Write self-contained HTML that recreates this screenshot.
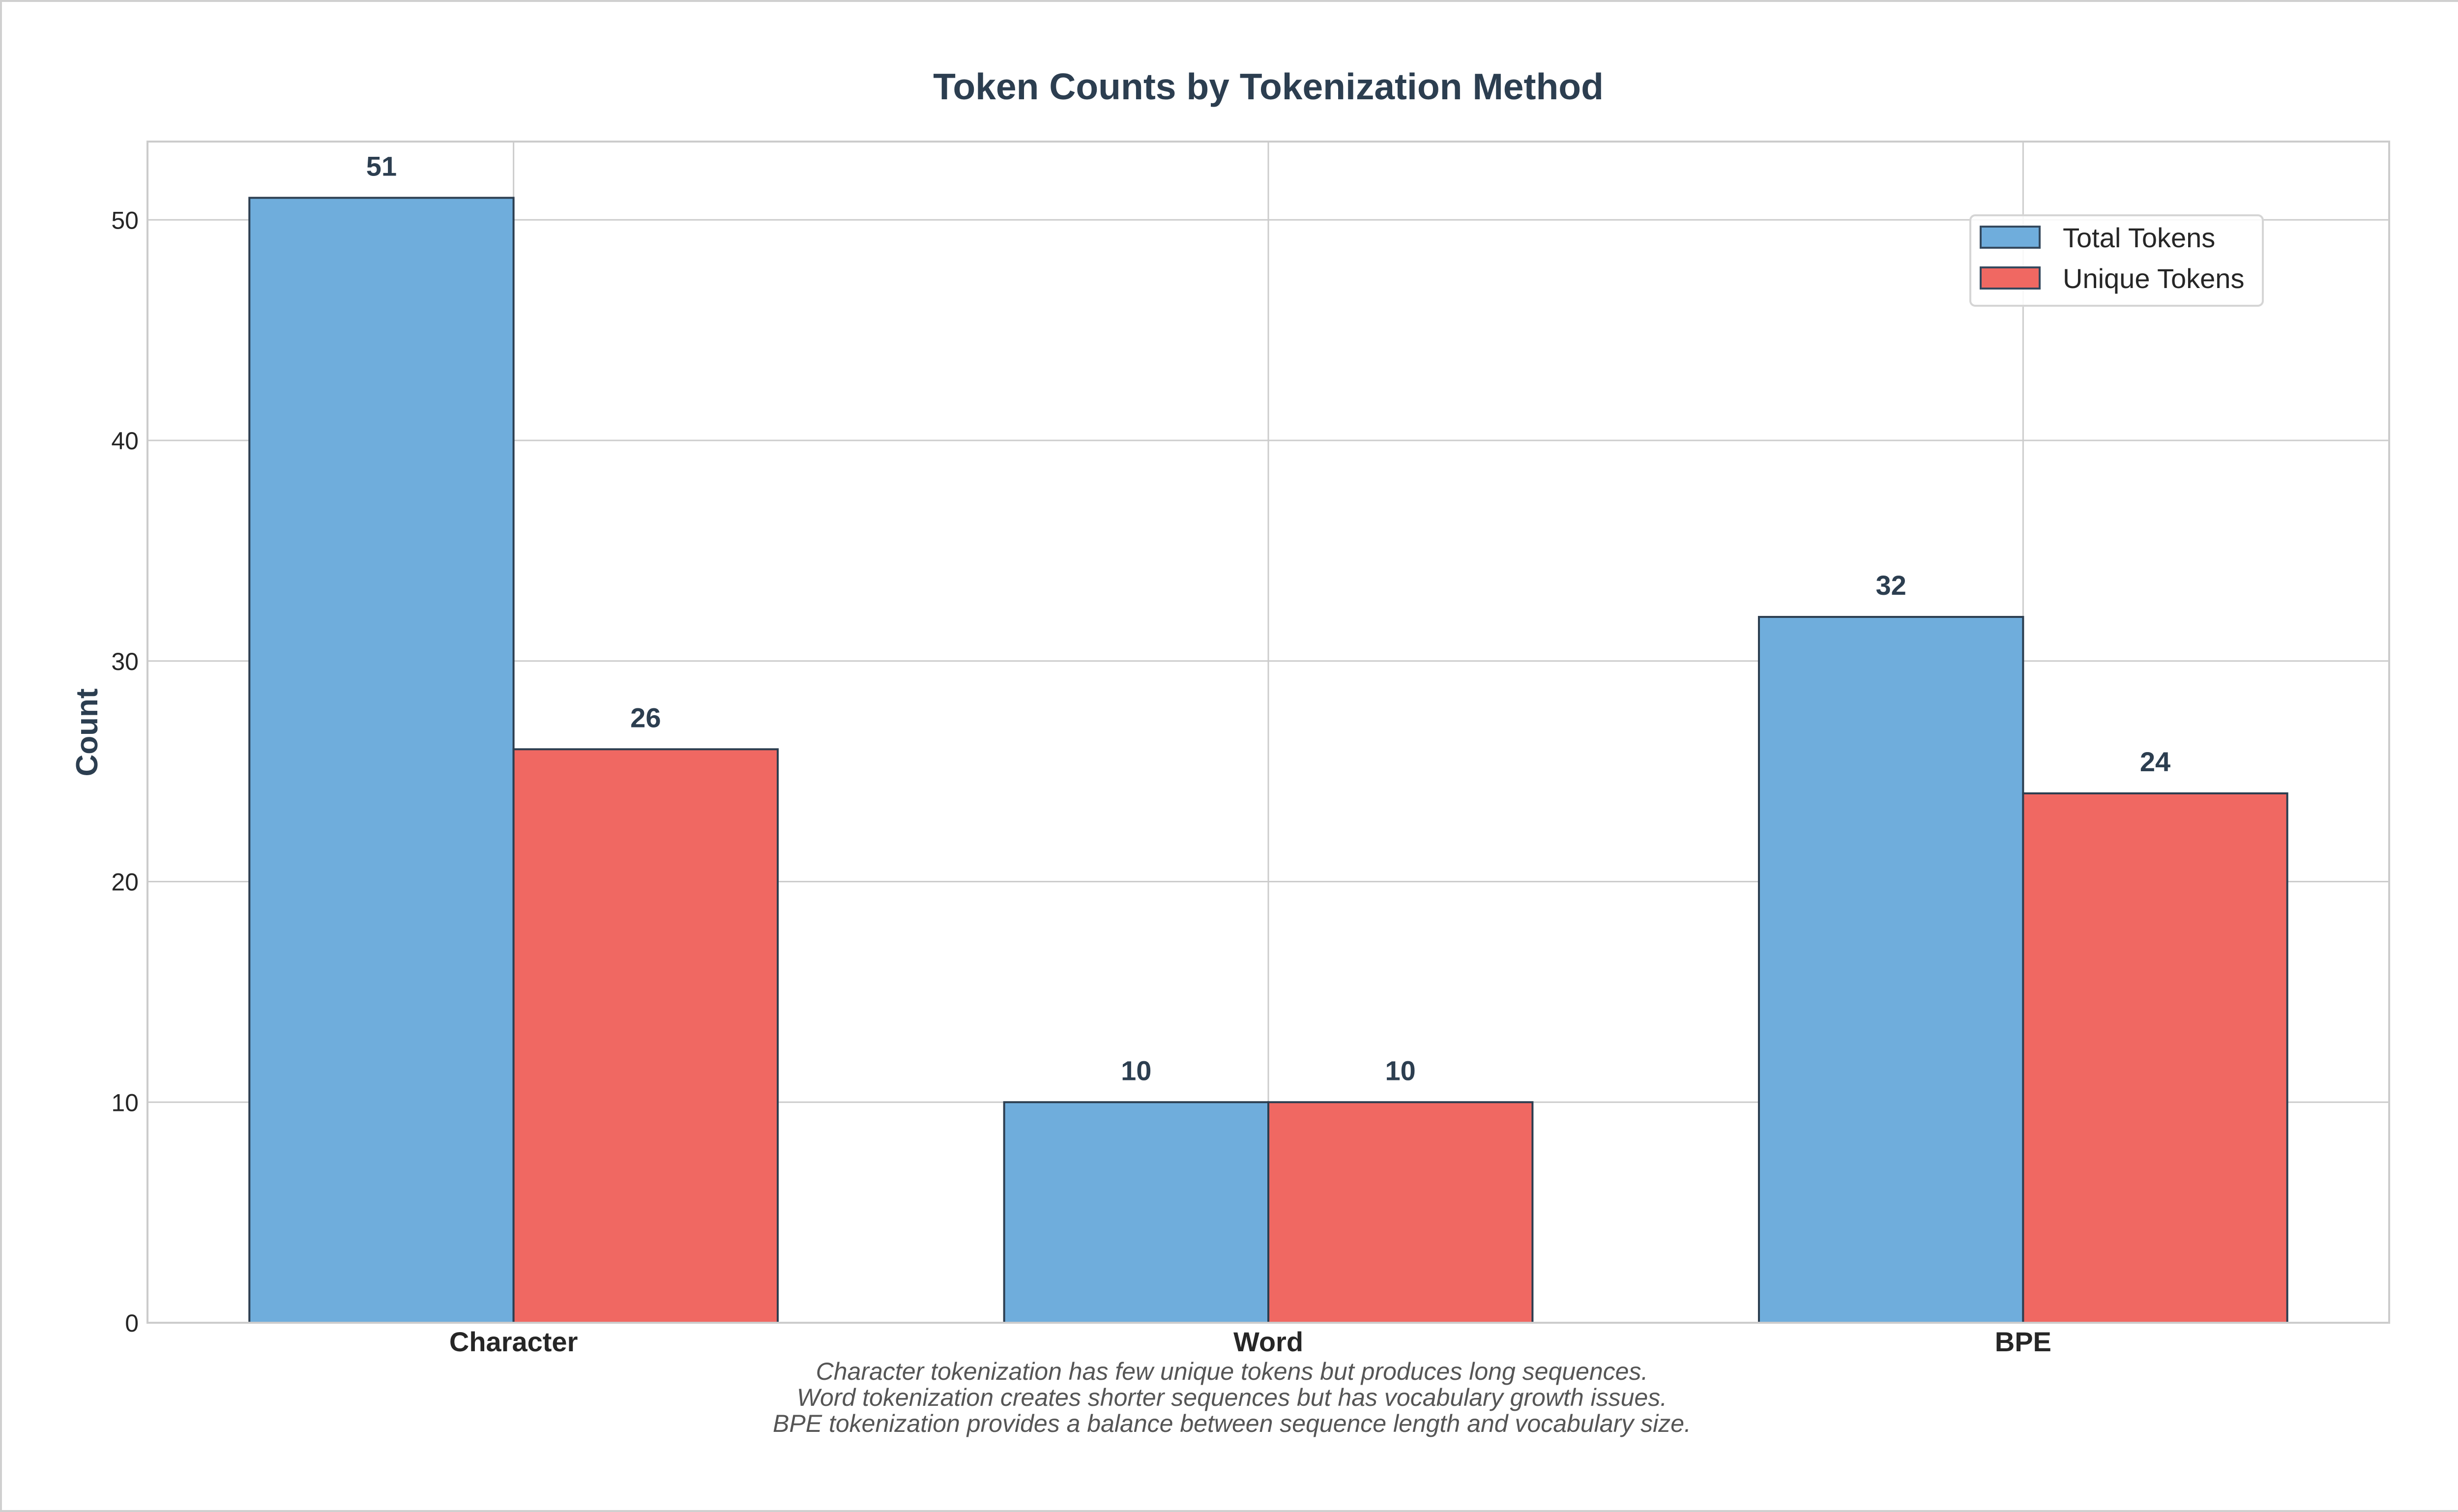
<!DOCTYPE html>
<html><head><meta charset="utf-8"><style>
html,body{margin:0;padding:0;background:#fff;}
svg{display:block;font-family:"Liberation Sans",Arial,sans-serif;}
</style></head><body>
<svg id="chart" width="5012" height="3076" viewBox="0 0 5012 3076" xmlns="http://www.w3.org/2000/svg">
<rect x="2" y="2" width="5008" height="3072" fill="#fff" stroke="#d0d0d0" stroke-width="4"/>
<text x="2580" y="202" text-anchor="middle" font-size="75" font-weight="bold" fill="#2c3e50">Token Counts by Tokenization Method</text>
<g id="grid"></g>
<g id="bars"></g>
<rect x="300" y="288" width="4560" height="2403" fill="none" stroke="#cccccc" stroke-width="4"/>
<g id="labels"></g>
<text x="0" y="0" transform="translate(198,1490) rotate(-90)" text-anchor="middle" font-size="62" font-weight="bold" fill="#2c3e50">Count</text>
<g>
<rect x="4008" y="438" width="595" height="184" rx="10" fill="#fff" fill-opacity="0.85" stroke="#d5d5d5" stroke-width="4"/>
<rect x="4029" y="461" width="120" height="43" fill="#6faddc" stroke="#34495e" stroke-width="4"/>
<text x="4196" y="503" font-size="56" fill="#262626">Total Tokens</text>
<rect x="4029" y="544" width="120" height="43" fill="#f06862" stroke="#34495e" stroke-width="4"/>
<text x="4196" y="586" font-size="56" fill="#262626">Unique Tokens</text>
</g>
<g font-size="50" font-style="italic" fill="#555" text-anchor="middle">
<text x="2506" y="2807">Character tokenization has few unique tokens but produces long sequences.</text>
<text x="2506" y="2860">Word tokenization creates shorter sequences but has vocabulary growth issues.</text>
<text x="2506" y="2913">BPE tokenization provides a balance between sequence length and vocabulary size.</text>
</g>
</svg>
<script>
const categories = ["Character", "Word", "BPE"];
const totalTokens = [51, 10, 32];
const uniqueTokens = [26, 10, 24];
const yTicks = [0, 10, 20, 30, 40, 50];

const NS = "http://www.w3.org/2000/svg";
const L = 300, R = 4860, T = 288, B = 2691;
const xMin = -0.485, xMax = 2.485, yMin = 0, yMax = 53.55;
const barW = 0.35;
function xs(v){ return L + (v - xMin) / (xMax - xMin) * (R - L); }
function ys(v){ return B - (v - yMin) / (yMax - yMin) * (B - T); }
function mk(tag, attrs, parent){ const e = document.createElementNS(NS, tag); for (const k in attrs) e.setAttribute(k, attrs[k]); parent.appendChild(e); return e; }

const grid = document.getElementById("grid");
const bars = document.getElementById("bars");
const labels = document.getElementById("labels");

yTicks.forEach(t => {
  const y = ys(t);
  const gl = mk("line", {x1: L, x2: R, y1: y, y2: y, stroke: "#cccccc", "stroke-width": 3}, grid);
  
  
  const tl = mk("text", {x: 282, y: y + 18, "text-anchor": "end", "font-size": 50, fill: "#262626"}, labels);
  tl.textContent = t;
  
  
});

categories.forEach((c, i) => {
  const x = xs(i);
  const gl = mk("line", {x1: x, x2: x, y1: T, y2: B, stroke: "#cccccc", "stroke-width": 3}, grid);
  
  

  const series = [[totalTokens[i], i - barW, "#6faddc", "total"], [uniqueTokens[i], i, "#f06862", "unique"]];
  series.forEach(([v, x0, col, nm]) => {
    const bx = xs(x0), bw = xs(x0 + barW) - xs(x0);
    const r = mk("rect", {x: bx, y: ys(v), width: bw, height: ys(0) - ys(v), fill: col, stroke: "#2c3e50", "stroke-width": 4}, bars);
    
    
    const vl = mk("text", {x: bx + bw / 2, y: ys(v) - 45, "text-anchor": "middle", "font-size": 56, "font-weight": "bold", fill: "#2c3e50"}, labels);
    vl.textContent = v;
    
    
  });

  const cl = mk("text", {x: x, y: 2749, "text-anchor": "middle", "font-size": 56, "font-weight": "bold", fill: "#262626"}, labels);
  cl.textContent = c;
  
  
});
</script>
</body></html>
